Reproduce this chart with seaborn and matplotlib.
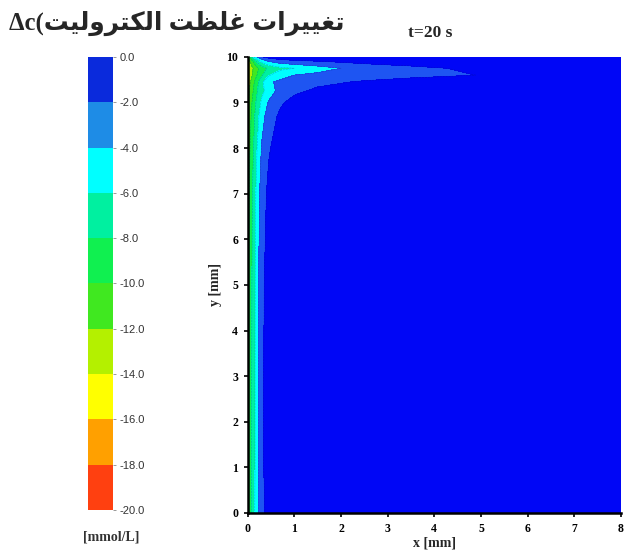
import numpy as np
import matplotlib
matplotlib.use("Agg")
import matplotlib.pyplot as plt
from matplotlib.colors import ListedColormap, BoundaryNorm
import matplotlib.cm as cm
import seaborn as sns

# ---- data ----
x_mm = [0, 0.05, 0.1, 0.15, 0.2, 0.3, 0.45, 0.7, 1.0, 1.5, 2.0, 2.5, 3.5, 4.8, 8.0]
y_mm = [0, 1, 3, 5, 7, 8, 8.7, 9.0, 9.25, 9.45, 9.6, 9.75, 9.9, 10.0]
dc_row_y0 = [-10.5, -9.0, -7.4, -6.0, -4.5, -2.6, -1.3, -0.5, -0.2, -0.1, -0.05, -0.02, 0, 0, 0]
dc_row_y1 = [-10.5, -9.0, -7.6, -6.2, -4.6, -2.4, -1.0, -0.4, -0.15, -0.08, -0.04, -0.02, 0, 0, 0]
dc_row_y3 = [-10.5, -9.0, -7.6, -6.2, -4.6, -2.4, -1.0, -0.4, -0.15, -0.08, -0.04, -0.02, 0, 0, 0]
dc_row_y5 = [-10.6, -9.1, -7.7, -6.3, -4.7, -2.5, -1.1, -0.4, -0.15, -0.08, -0.04, -0.02, 0, 0, 0]
dc_row_y7 = [-10.9, -9.4, -8.0, -6.7, -5.2, -3.0, -1.5, -0.6, -0.25, -0.1, -0.05, -0.02, 0, 0, 0]
dc_row_y8 = [-11.5, -10.0, -8.6, -7.4, -6.0, -3.8, -2.2, -1.0, -0.4, -0.15, -0.08, -0.04, -0.02, 0, 0]
dc_row_y87 = [-12.0, -10.6, -9.3, -8.0, -6.8, -4.8, -3.0, -1.6, -0.8, -0.35, -0.2, -0.1, -0.05, -0.02, 0]
dc_row_y90 = [-12.5, -11.0, -9.8, -8.6, -7.4, -5.6, -3.8, -2.3, -1.3, -0.6, -0.35, -0.2, -0.1, -0.05, 0]
dc_row_y925 = [-13.0, -11.6, -10.4, -9.3, -8.2, -6.6, -5.0, -3.3, -2.4, -1.6, -1.2, -0.9, -0.5, -0.2, 0]
dc_row_y945 = [-13.5, -12.2, -11.0, -9.8, -8.6, -6.5, -4.3, -3.6, -3.0, -2.5, -2.15, -1.8, -1.3, -0.6, 0]
dc_row_y96 = [-14.0, -13.0, -12.0, -11.0, -10.0, -8.3, -6.2, -4.8, -4.0, -3.5, -3.2, -2.9, -2.5, -2.05, -0.1]
dc_row_y975 = [-14.0, -13.2, -12.3, -11.4, -10.5, -9.0, -7.6, -6.5, -6.0, -4.9, -4.0, -3.4, -2.6, -1.6, -0.05]
dc_row_y99 = [-13.5, -12.0, -10.5, -9.0, -7.5, -5.5, -4.0, -3.0, -2.5, -2.1, -1.7, -1.3, -0.8, -0.4, 0]
dc_row_y100 = [-12.5, -9.5, -7.0, -5.0, -3.8, -2.2, -1.2, -0.6, -0.4, -0.3, -0.2, -0.1, -0.05, 0, 0]

levels = [-20, -18, -16, -14, -12, -10, -8, -6, -4, -2, 0]
plot_colors = ['#FF4010', '#FFA000', '#FFFF00', '#B4F000', '#40E820',
               '#10F050', '#00F0A0', '#00FFFF', '#1E55F2', '#0006F6']
bar_colors = ['#FF4010', '#FFA000', '#FFFF00', '#B4F000', '#40E820',
              '#10F050', '#00F0A0', '#00FFFF', '#1E8CE6', '#0A2ADC']
x_ticks = [0, 1, 2, 3, 4, 5, 6, 7, 8]
y_ticks = [0, 1, 2, 3, 4, 5, 6, 7, 8, 9, 10]

# ---- style ----
sns.set_style("ticks")
plt.rcParams['font.family'] = ['Liberation Serif', 'DejaVu Sans']

dc = np.array([dc_row_y0, dc_row_y1, dc_row_y3, dc_row_y5, dc_row_y7, dc_row_y8,
               dc_row_y87, dc_row_y90, dc_row_y925, dc_row_y945, dc_row_y96,
               dc_row_y975, dc_row_y99, dc_row_y100])

fig = plt.figure(figsize=(6.24, 5.59), dpi=100)
ax = fig.add_axes([0.397, 0.0823, 0.598, 0.816])

cmap_plot = ListedColormap(plot_colors)
norm = BoundaryNorm(levels, cmap_plot.N)
ax.contourf(x_mm, y_mm, dc, levels=levels, cmap=cmap_plot, norm=norm)
ax.contour(x_mm, y_mm, dc, levels=levels[1:-1], colors='#00106A', linewidths=0.4, alpha=0.3)

ax.set_xlim(0, 8)
ax.set_ylim(0, 10)
ax.set_xticks(x_ticks)
ax.set_yticks(y_ticks)
for s in ['top', 'right']:
    ax.spines[s].set_visible(False)
for s in ['left', 'bottom']:
    ax.spines[s].set_linewidth(1.8)
    ax.spines[s].set_color('black')
ax.tick_params(axis='both', length=3, width=1.2, pad=4, labelsize=8.5, colors='black')
for lab in ax.get_xticklabels() + ax.get_yticklabels():
    lab.set_fontweight('bold')
ax.set_xlabel('x [mm]', fontsize=10, fontweight='bold', labelpad=1)
ax.set_ylabel('y [mm]', fontsize=10, fontweight='bold', labelpad=3)
ax.set_title('t=20 s', fontsize=12.5, fontweight='bold', pad=14, x=0.49)

# ---- colorbar ----
cax = fig.add_axes([0.141, 0.088, 0.040, 0.810])
cmap_bar = ListedColormap(bar_colors)
sm = cm.ScalarMappable(norm=BoundaryNorm(levels, cmap_bar.N), cmap=cmap_bar)
cb = fig.colorbar(sm, cax=cax, ticks=levels)
cb.outline.set_visible(False)
cb.ax.set_yticklabels([f"{v:.1f}" for v in levels],
                      fontfamily='Liberation Sans', fontsize=8, color='#333333')
cb.ax.tick_params(length=2, width=0.6, color='#888888', pad=3)
fig.text(0.178, 0.040, '[mmol/L]', ha='center', va='center', fontsize=10,
         fontweight='bold', color='#333333')

# ---- header (Persian, visual order with presentation forms) ----
w1 = '\uFE95\uFE8D\uFEAE\uFBFF\uFBFF\uFED0\uFE97'
w2 = '\uFE96\uFEC8\uFEE0\uFECF'
w3 = '\uFE96\uFBFF\uFEDF\uFEED\uFEAE\uFE98\uFB91\uFEDF\uFE8D'
header = '\u0394c(' + w3 + ' ' + w2 + ' ' + w1
fig.text(0.553, 0.958, header, ha='right', va='center', fontsize=17.8,
         fontweight='bold', family=['Liberation Serif', 'DejaVu Sans'])

fig.savefig('out.png', dpi=100)
